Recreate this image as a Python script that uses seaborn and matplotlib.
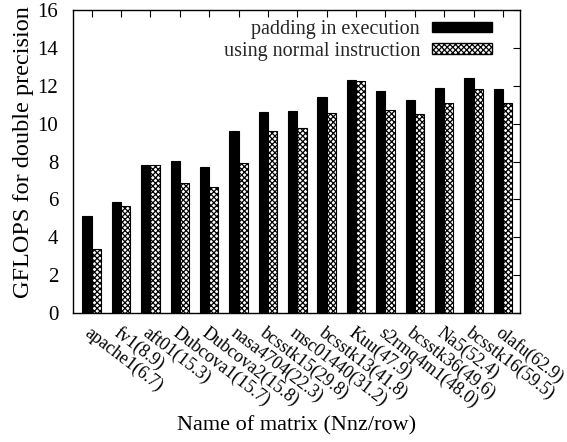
import matplotlib
matplotlib.use("Agg")
import matplotlib.pyplot as plt
from matplotlib.patches import Patch
import seaborn as sns
import pandas as pd

matrices = ["apache1(6.7)", "fv1(8.9)", "aft01(15.3)", "Dubcova1(15.7)", "Dubcova2(15.8)",
            "nasa4704(22.3)", "bcsstk15(29.8)", "msc01440(31.2)", "bcsstk13(41.8)", "Kuu(47.9)",
            "s2rmq4m1(48.0)", "bcsstk36(49.6)", "Na5(52.4)", "bcsstk16(59.5)", "olafu(62.9)"]
padding = [5.1, 5.88, 7.84, 8.05, 7.72, 9.6, 10.63, 10.67, 11.4, 12.32, 11.72, 11.23, 11.91, 12.4, 11.84]
normal = [3.4, 5.67, 7.84, 6.88, 6.63, 7.9, 9.6, 9.79, 10.56, 12.25, 10.74, 10.5, 11.09, 11.83, 11.09]
series = ["padding in execution", "using normal instruction"]

df = pd.DataFrame({
    "matrix": matrices * 2,
    "gflops": padding + normal,
    "series": [series[0]] * len(matrices) + [series[1]] * len(matrices),
})

sns.set_theme(style="white")
plt.rcParams["font.family"] = ["Liberation Serif", "DejaVu Serif"]
plt.rcParams["hatch.linewidth"] = 0.9

fig = plt.figure(figsize=(5.67, 4.42), dpi=100)
ax = fig.add_axes([0.1296, 0.292, 0.917 - 0.1296, 0.977 - 0.292])

sns.barplot(data=df, x="matrix", y="gflops", hue="series", hue_order=series,
            palette=["black", "white"], width=0.63, gap=0, ax=ax, legend=False,
            edgecolor="black", linewidth=0.8, saturation=1)

for p in ax.patches[len(matrices):]:
    p.set_hatch("xxxxxx")

ax.set_ylim(0, 16)
ax.set_xlim(-0.62, 14.58)
ax.set_yticks(range(0, 17, 2))
ax.tick_params(axis="both", direction="in", length=5, width=0.8, top=True, right=True,
               labelsize=15, colors="black")
ax.tick_params(axis="y", pad=11)
ax.tick_params(axis="x", pad=8)
ax.set_xticks(range(len(matrices)))
ax.set_xticklabels(matrices, rotation=-37.5, ha="left", va="top", rotation_mode="anchor", fontsize=13)
for lbl in ax.get_xticklabels():
    lbl.set_x(lbl.get_position()[0])
for sp in ax.spines.values():
    sp.set_color("black")
    sp.set_linewidth(1.0)

ax.set_xlabel("Name of matrix (Nnz/row)", fontsize=16, color="black")
ax.set_ylabel("GFLOPS for double precision", fontsize=17.5, color="black")
ax.xaxis.set_label_coords(0.5, -0.34)
ax.yaxis.set_label_coords(-0.089, 0.53)

handles = [Patch(facecolor="black", edgecolor="black", label=series[0]),
           Patch(facecolor="white", edgecolor="black", hatch="xxxxxx", label=series[1])]
ax.legend(handles=handles, loc="upper right", bbox_to_anchor=(0.961, 1.0), frameon=False,
          markerfirst=False, fontsize=14.5, handlelength=3.0, handleheight=0.45,
          labelspacing=0.12, handletextpad=0.6, borderaxespad=0.1)

fig.savefig("out.png", dpi=100)
